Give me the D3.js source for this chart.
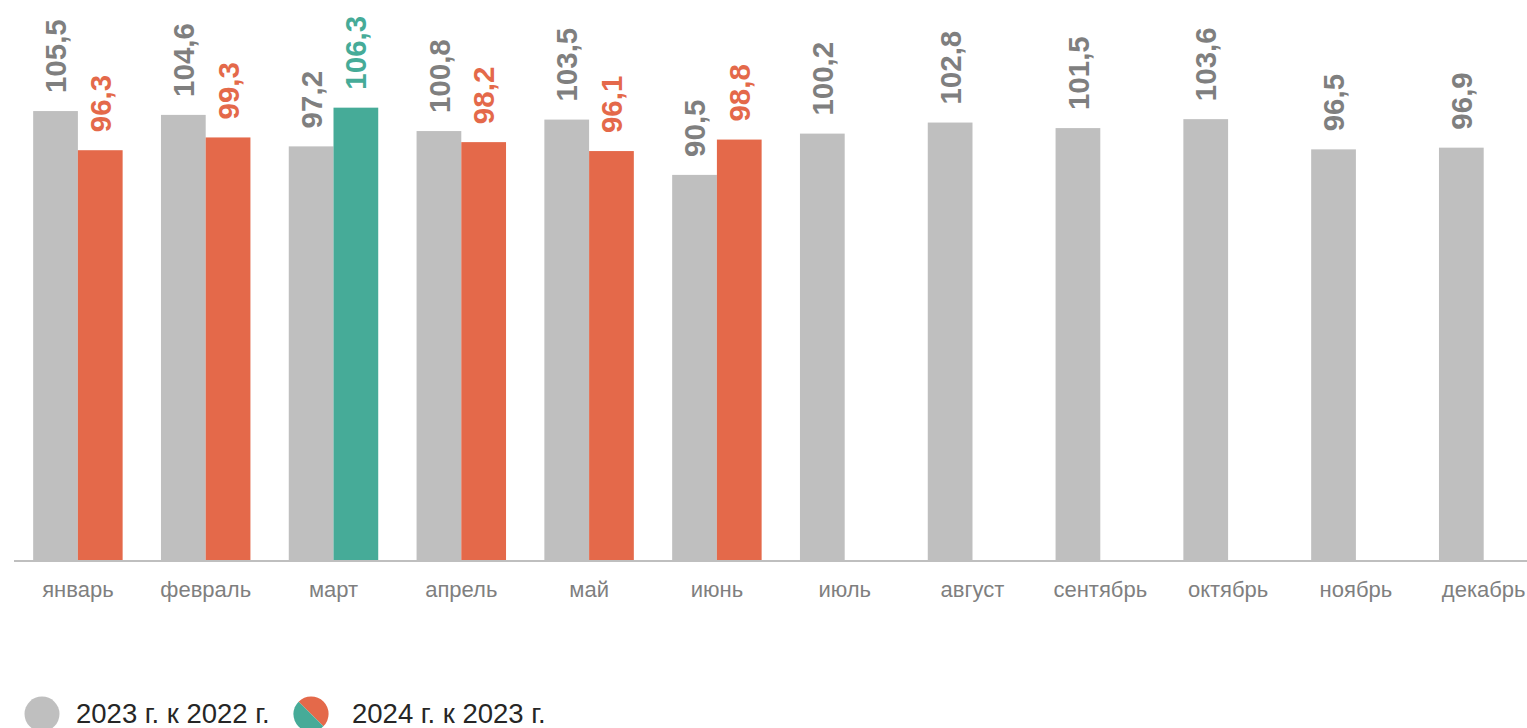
<!DOCTYPE html>
<html><head><meta charset="utf-8">
<script src="https://cdn.jsdelivr.net/npm/d3@7"></script>
<style>html,body{margin:0;padding:0;background:#fff;overflow:hidden}</style>
</head><body>
<svg id="c" width="1527" height="728"></svg>
<script>
const months = ["январь","февраль","март","апрель","май","июнь","июль","август","сентябрь","октябрь","ноябрь","декабрь"];
const values2023 = [105.5,104.6,97.2,100.8,103.5,90.5,100.2,102.8,101.5,103.6,96.5,96.9];
const values2024 = [96.3,99.3,106.3,98.2,96.1,98.8];
const legendLabels = ["2023 г. к 2022 г.","2024 г. к 2023 г."];

const GRAY="#bfbfbf", GRAYTXT="#7f7f7f", ORANGE="#e4694a", TEAL="#46ab98";
const fmt = v => v.toFixed(1).replace(".", ",");
const col2024 = v => v >= 100 ? TEAL : ORANGE;

const svg = d3.select("#c");
const x = d3.scaleBand().domain(months).range([14, 1547.6]).paddingInner(0.3).paddingOuter(0.15);
const sub = d3.scaleBand().domain(["a","b"]).range([0, x.bandwidth()]);
const y = d3.scaleLinear().domain([0, 131.6]).range([560, 0]);

const d1 = months.map((m,i)=>({m, v: values2023[i]}));
const d2 = values2024.map((v,i)=>({m: months[i], v}));

svg.selectAll("rect.a").data(d1).join("rect").attr("class","a")
  .attr("x", d=>x(d.m)+sub("a")).attr("width", sub.bandwidth())
  .attr("y", d=>y(d.v)).attr("height", d=>y(0)-y(d.v)).attr("fill", GRAY);
svg.selectAll("rect.b").data(d2).join("rect").attr("class","b")
  .attr("x", d=>x(d.m)+sub("b")).attr("width", sub.bandwidth())
  .attr("y", d=>y(d.v)).attr("height", d=>y(0)-y(d.v)).attr("fill", d=>col2024(d.v));

const lab = (sel, key, colorFn) => sel
  .attr("transform", d=>`translate(${x(d.m)+sub(key)+sub.bandwidth()/2},${y(d.v)-18}) rotate(-90)`)
  .attr("dy","0.36em").attr("text-anchor","start")
  .attr("font-family","'Liberation Sans', Arial, sans-serif").attr("font-weight","700")
  .attr("font-size","29.5px").attr("fill", colorFn).text(d=>fmt(d.v));
lab(svg.selectAll("text.la").data(d1).join("text").attr("class","la"), "a", ()=>GRAYTXT);
lab(svg.selectAll("text.lb").data(d2).join("text").attr("class","lb"), "b", d=>col2024(d.v));

// axis
const ax = svg.append("g").attr("transform","translate(0,561)")
  .call(d3.axisBottom(x).tickSize(0).tickPadding(20));
ax.select(".domain").attr("d","M14,0H1527").attr("stroke",GRAY).attr("stroke-width",2);
ax.selectAll("text").attr("font-family","'Liberation Sans', Arial, sans-serif")
  .attr("font-size","22px").attr("fill",GRAYTXT);

// legend
const lg = svg.append("g").attr("font-family","'Liberation Sans', Arial, sans-serif");
lg.append("circle").attr("cx",42).attr("cy",714).attr("r",17.5).attr("fill",GRAY);
lg.append("text").attr("x",76).attr("y",723).attr("font-size","27.5px").attr("fill","#262626").text(legendLabels[0]);
const arc = d3.arc().innerRadius(0).outerRadius(17.5);
const g2 = lg.append("g").attr("transform","translate(311,714)");
g2.append("path").attr("d", arc({startAngle:-Math.PI/4, endAngle:3*Math.PI/4})).attr("fill",ORANGE);
g2.append("path").attr("d", arc({startAngle:3*Math.PI/4, endAngle:7*Math.PI/4})).attr("fill",TEAL);
lg.append("text").attr("x",352).attr("y",723).attr("font-size","27.5px").attr("fill","#262626").text(legendLabels[1]);
</script>
</body></html>
